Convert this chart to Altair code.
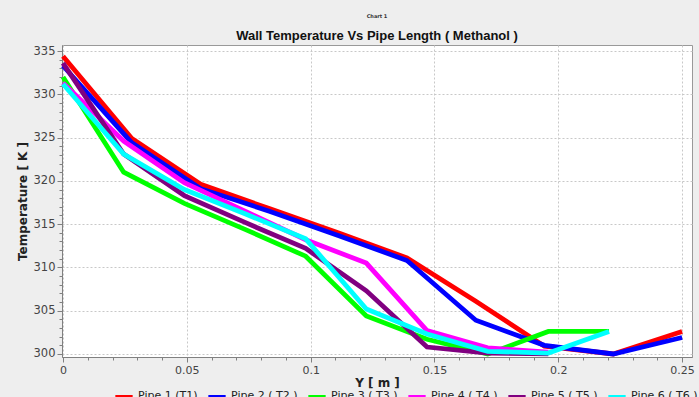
import altair as alt
import pandas as pd

series_names = ["Pipe 1 (T1)", "Pipe 2 ( T2 )", "Pipe 3 ( T3 )",
                "Pipe 4 ( T4 )", "Pipe 5 ( T5 )", "Pipe 6 ( T6 )"]
series_colors = ["#ff0000", "#0000ff", "#00ff00", "#ff00ff", "#800080", "#00ffff"]

x_long = [0, 0.0278, 0.0556, 0.0833, 0.1111, 0.1389, 0.1667, 0.1944, 0.2222, 0.25]
x_short = [0, 0.0245, 0.049, 0.0735, 0.098, 0.1225, 0.147, 0.1715, 0.196, 0.2205]

t1 = [334.4, 324.9, 319.6, 316.8, 314.0, 311.1, 306.1, 300.9, 300.0, 302.6]
t2 = [333.3, 324.4, 319.1, 316.5, 313.7, 310.8, 303.9, 301.0, 300.0, 301.9]
t3 = [332.0, 321.0, 317.4, 314.4, 311.3, 304.4, 301.7, 300.0, 302.6, 302.6]
t4 = [331.3, 324.6, 319.8, 316.5, 313.2, 310.5, 302.7, 300.7, 300.2]
t5 = [333.6, 323.1, 318.3, 315.2, 312.2, 307.3, 300.8, 300.1, 300.0]
t6 = [331.2, 323.1, 319.0, 316.2, 313.3, 305.2, 302.3, 300.3, 300.1, 302.6]

x_ticks = [round(i * 0.01, 2) for i in range(26)]
y_ticks = list(range(300, 336))

main_title = "Wall Temperature Vs Pipe Length ( Methanol )"
small_title = "Chart 1"

rows = []
for name, xs, ts in [
    (series_names[0], x_long, t1),
    (series_names[1], x_long, t2),
    (series_names[2], x_short, t3),
    (series_names[3], x_short, t4),
    (series_names[4], x_short, t5),
    (series_names[5], x_short, t6),
]:
    for i, (xv, tv) in enumerate(zip(xs, ts)):
        rows.append({"series": name, "x": xv, "T": tv, "i": i})
df = pd.DataFrame(rows)

FONT = "DejaVu Sans"
major_x = "abs(datum.value*20 - round(datum.value*20)) < 0.001"
major_y = "datum.value % 5 == 0"

lines = alt.Chart(df).mark_line(strokeWidth=4.8, strokeJoin="miter").encode(
    x=alt.X("x:Q", scale=alt.Scale(domain=[-0.0004, 0.254], nice=False, zero=False),
            axis=alt.Axis(title="Y [ m ]", values=x_ticks,
                          labelExpr=f"{major_x} ? format(datum.value, '.2~f') : ''",
                          labelFont=FONT, labelFontSize=11, labelColor="#444444",
                          titleFont=FONT, titleFontSize=12, titleFontWeight="bold",
                          titleColor="#222222", titlePadding=2,
                          tickColor="#808080", domainColor="#808080",
                          tickSize={"condition": {"test": major_x, "value": 5}, "value": 3},
                          gridColor="#c8c8c8", gridDash=[2, 2],
                          gridOpacity={"condition": {"test": major_x, "value": 1}, "value": 0},
                          labelPadding=2, labelFlush=False)),
    y=alt.Y("T:Q", scale=alt.Scale(domain=[299.65, 335.7], nice=False, zero=False),
            axis=alt.Axis(title="Temperature [ K ]", values=y_ticks,
                          labelExpr=f"{major_y} ? datum.label : ''",
                          labelFont=FONT, labelFontSize=11.5, labelColor="#444444",
                          titleFont=FONT, titleFontSize=12, titleFontWeight="bold",
                          titleColor="#222222", titlePadding=4,
                          tickColor="#808080", domainColor="#808080",
                          tickSize={"condition": {"test": major_y, "value": 5}, "value": 3},
                          gridColor="#c8c8c8", gridDash=[2, 2],
                          gridOpacity={"condition": {"test": major_y, "value": 1}, "value": 0},
                          labelPadding=2, labelFlush=False)),
    color=alt.Color("series:N",
                    scale=alt.Scale(domain=series_names, range=series_colors),
                    legend=alt.Legend(title=None, orient="none", direction="horizontal",
                                      legendX=52, legendY=341, columns=6,
                                      symbolType="stroke", symbolStrokeWidth=2,
                                      symbolSize=300, labelFont=FONT, labelFontSize=11,
                                      columnPadding=6, labelColor="#222222")),
    order="i:Q",
)

small_label = alt.Chart(pd.DataFrame({"t": [small_title]})).mark_text(
    font=FONT, fontSize=5, color="#333333", fontWeight="bold"
).encode(text="t:N", x=alt.value(315), y=alt.value(-29))

main_label = alt.Chart(pd.DataFrame({"t": [main_title]})).mark_text(
    font="Liberation Sans", fontSize=13, color="#111111", fontWeight="bold",
    baseline="middle"
).encode(text="t:N", x=alt.value(315), y=alt.value(-9))

chart = alt.layer(lines, small_label, main_label).properties(
    width=630, height=312,
    background="#eeeeee",
    padding={"left": 62, "top": 45, "right": 7, "bottom": 40},
    autosize=alt.AutoSizeParams(type="none"),
).configure_view(fill="white", stroke="#999999")

chart.save("out.html", embed_options={"renderer": "svg", "actions": False})
